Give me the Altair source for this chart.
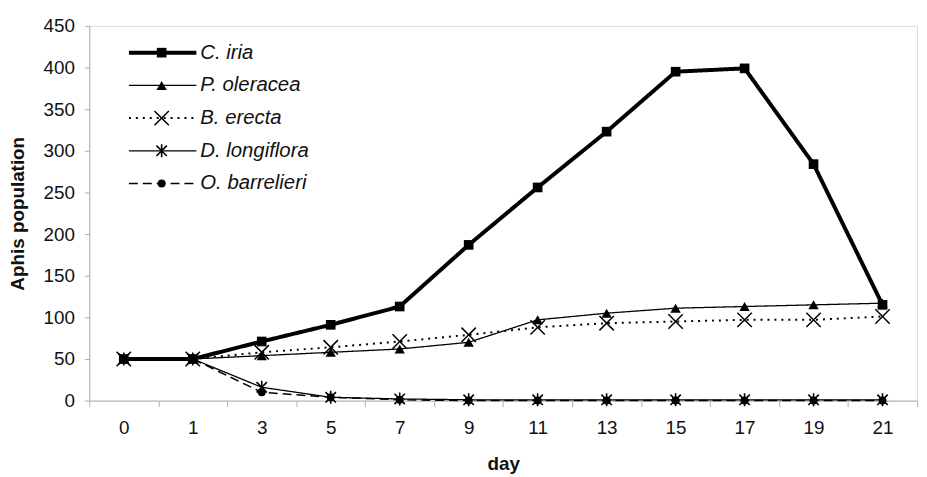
import altair as alt
import pandas as pd

days = [0, 1, 3, 5, 7, 9, 11, 13, 15, 17, 19, 21]
c_iria = [50, 50, 71, 91, 113, 187, 256, 323, 395, 399, 284, 115]
p_oleracea = [50, 50, 54, 58, 62, 70, 97, 105, 111, 113, 115, 117]
b_erecta = [50, 50, 58, 64, 71, 79, 88, 93, 95, 97, 97, 101]
d_longiflora = [50, 50, 16, 4, 2, 1, 1, 1, 1, 1, 1, 1]
o_barrelieri = [50, 50, 10, 4, 1, 0, 0, 0, 0, 0, 0, 0]
names = ["C. iria", "P. oleracea", "B. erecta", "D. longiflora", "O. barrelieri"]
series = [c_iria, p_oleracea, b_erecta, d_longiflora, o_barrelieri]

FONT = "Liberation Sans"
X_PATH = "M-1,-1L1,1M-1,1L1,-1"
STAR_PATH = "M-1,-1L1,1M-1,1L1,-1M0,-1.25L0,1.25"

styles = [
    dict(lw=4, dash=[1, 0], shape="square", size=95, filled=True, mstroke=0),
    dict(lw=1.3, dash=[1, 0], shape="triangle-up", size=110, filled=True, mstroke=0),
    dict(lw=2, dash=[2, 5], shape=X_PATH, size=210, filled=False, mstroke=1.5),
    dict(lw=1.3, dash=[1, 0], shape=STAR_PATH, size=110, filled=False, mstroke=1.6),
    dict(lw=1.5, dash=[9, 5], shape="circle", size=65, filled=True, mstroke=0),
]

x_enc = alt.X(
    "day:O",
    sort=days,
    scale=alt.Scale(type="band", paddingInner=0, paddingOuter=0),
    axis=alt.Axis(
        title="day", tickBand="extent", labelAngle=0, labelFont=FONT, labelFontSize=19,
        labelColor="#111", titleFont=FONT, titleFontSize=19, titleFontWeight="bold",
        titleColor="#111", domainColor="#b0b0b0", tickColor="#b0b0b0", tickSize=6,
        labelPadding=12, titlePadding=17, grid=False,
    ),
)
y_enc = alt.Y(
    "value:Q",
    scale=alt.Scale(domain=[0, 450], nice=False),
    axis=alt.Axis(
        title="Aphis population", values=list(range(0, 451, 50)), labelFont=FONT,
        labelFontSize=19, labelColor="#111", titleFont=FONT, titleFontSize=19,
        titleFontWeight="bold", titleColor="#111", domainColor="#b0b0b0",
        tickColor="#b0b0b0", tickSize=5, labelPadding=10, titlePadding=16, grid=False,
    ),
)

layers = []
for name, vals, st in zip(names, series, styles):
    df = pd.DataFrame({"day": days, "value": vals, "series": name})
    base = alt.Chart(df)
    layers.append(
        base.mark_line(color="black", strokeWidth=st["lw"], strokeDash=st["dash"]).encode(
            x=x_enc, y=y_enc
        )
    )
    pt_kwargs = dict(shape=st["shape"], size=st["size"], filled=st["filled"], opacity=1)
    if st["filled"]:
        pt_kwargs.update(color="black")
    else:
        pt_kwargs.update(stroke="black", strokeWidth=st["mstroke"], fill="transparent")
    layers.append(base.mark_point(**pt_kwargs).encode(x=x_enc, y=y_enc))

# legend (inside plot, top-left)
leg_y = [27, 60, 93, 126, 159]
for name, st, yy in zip(names, styles, leg_y):
    ldf = pd.DataFrame({"series": [name]})
    lb = alt.Chart(ldf)
    layers.append(
        lb.mark_rule(color="black", strokeWidth=st["lw"], strokeDash=st["dash"]).encode(
            x=alt.value(40), x2=alt.value(108), y=alt.value(yy)
        )
    )
    pt_kwargs = dict(shape=st["shape"], size=st["size"], filled=st["filled"], opacity=1)
    if st["filled"]:
        pt_kwargs.update(color="black")
    else:
        pt_kwargs.update(stroke="black", strokeWidth=st["mstroke"], fill="transparent")
    layers.append(lb.mark_point(**pt_kwargs).encode(x=alt.value(73), y=alt.value(yy)))
    layers.append(
        lb.mark_text(align="left", baseline="middle", font=FONT, fontSize=20.5,
                     fontStyle="italic", color="#111").encode(
            x=alt.value(112), y=alt.value(yy), text="series:N"
        )
    )

chart = (
    alt.layer(*layers)
    .properties(
        width=835, height=378,
        autosize=alt.AutoSizeParams(type="none"),
        padding={"left": 82, "top": 16, "right": 2, "bottom": 75},
    )
    .configure_view(stroke=None)
    .configure(background="white")
)

chart.save("out.html", embed_options={"renderer": "svg", "actions": False})
